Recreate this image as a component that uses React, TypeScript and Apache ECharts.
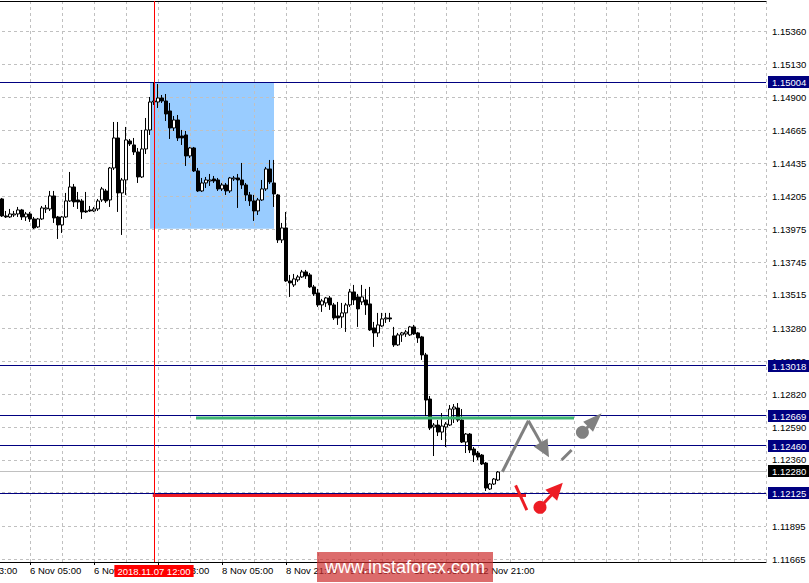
import { useEffect, useRef } from "react";
import * as echarts from "echarts";

// ---------- data (EURUSD H1) ----------
const FIRST_BAR = 9; // bar index of first candle (5 Nov 22:00)

const opens = [
  1.14187, 1.14068, 1.14061, 1.14075, 1.14082, 1.1411, 1.14061, 1.14082, 1.14047, 1.13991,
  1.14047, 1.14117, 1.14117, 1.14208, 1.14061, 1.14005, 1.14061, 1.14173, 1.14271, 1.1418,
  1.14173, 1.14103, 1.1411, 1.14103, 1.14117, 1.1418, 1.14243, 1.1418, 1.14404, 1.14614,
  1.14229, 1.1432, 1.14593, 1.14565, 1.14516, 1.14341, 1.14537, 1.1467, 1.14866, 1.14866,
  1.14894, 1.14873, 1.14803, 1.14684, 1.1474, 1.14628, 1.14635, 1.14488, 1.14544, 1.14383,
  1.14243, 1.14299, 1.14313, 1.14327, 1.1432, 1.14257, 1.14285, 1.14243, 1.14327, 1.14334,
  1.1432, 1.14285, 1.14215, 1.14173, 1.14103, 1.1418, 1.14257, 1.14397, 1.14299, 1.14215,
  1.139, 1.13984, 1.13613, 1.13585, 1.1362, 1.13641, 1.13676, 1.13655, 1.13571, 1.13529,
  1.13445, 1.13459, 1.13494, 1.13445, 1.13368, 1.13361, 1.13389, 1.13445, 1.13536, 1.13501,
  1.13466, 1.1348, 1.13452, 1.13284, 1.13249, 1.13298, 1.13347, 1.13354, 1.13228, 1.13165,
  1.13235, 1.13242, 1.13235, 1.13291, 1.13249, 1.13221, 1.13095, 1.12786, 1.1259, 1.12604,
  1.12555, 1.1259, 1.12604, 1.12716, 1.12723, 1.12639, 1.12485, 1.12541, 1.12436, 1.12408,
  1.12394, 1.12338, 1.12156, 1.12191, 1.12219,
];
const closes = [
  1.14068, 1.14061, 1.14082, 1.14082, 1.1411, 1.14061, 1.14082, 1.14047, 1.13984, 1.14047,
  1.14124, 1.14124, 1.14208, 1.14054, 1.14005, 1.14061, 1.14173, 1.14271, 1.14166, 1.14166,
  1.14096, 1.14096, 1.14103, 1.14117, 1.14173, 1.14257, 1.14173, 1.14404, 1.14614, 1.14229,
  1.1432, 1.146, 1.14572, 1.14516, 1.14341, 1.14537, 1.1467, 1.14866, 1.14873, 1.14894,
  1.14873, 1.14782, 1.14684, 1.1474, 1.14614, 1.14614, 1.14488, 1.14544, 1.14383, 1.14243,
  1.14299, 1.1432, 1.1432, 1.14313, 1.14257, 1.14285, 1.14243, 1.14334, 1.14334, 1.1432,
  1.14285, 1.14215, 1.14173, 1.14103, 1.1418, 1.14257, 1.14397, 1.14306, 1.14222, 1.139,
  1.13984, 1.13613, 1.13599, 1.13627, 1.13641, 1.13676, 1.13648, 1.13571, 1.13522, 1.13445,
  1.13473, 1.13494, 1.13445, 1.13354, 1.13354, 1.13389, 1.13445, 1.13536, 1.1348, 1.13417,
  1.13501, 1.13445, 1.1327, 1.13249, 1.13305, 1.13347, 1.13354, 1.13347, 1.13165, 1.13235,
  1.13249, 1.13256, 1.13291, 1.13242, 1.13214, 1.13095, 1.12779, 1.12583, 1.12604, 1.12555,
  1.12597, 1.12611, 1.12716, 1.1273, 1.12639, 1.12485, 1.12541, 1.12429, 1.12394, 1.1238,
  1.12331, 1.12163, 1.12191, 1.12226, 1.12275,
];
const lows = [
  1.14061, 1.14054, 1.14054, 1.14061, 1.14061, 1.1404, 1.14033, 1.14026, 1.13977, 1.13984,
  1.1404, 1.14089, 1.14103, 1.14019, 1.13907, 1.13949, 1.14054, 1.14166, 1.14131, 1.14117,
  1.14047, 1.14089, 1.14096, 1.14096, 1.14103, 1.14166, 1.14159, 1.14131, 1.1439, 1.14096,
  1.13935, 1.14215, 1.14558, 1.14495, 1.14299, 1.14334, 1.14502, 1.14635, 1.14845, 1.14824,
  1.14859, 1.14733, 1.14607, 1.14663, 1.14593, 1.14565, 1.14418, 1.14474, 1.14376, 1.14236,
  1.14236, 1.14264, 1.14278, 1.14299, 1.14243, 1.14243, 1.14215, 1.14229, 1.14313, 1.14124,
  1.14257, 1.14173, 1.14138, 1.14033, 1.14075, 1.14173, 1.14243, 1.14292, 1.14131, 1.13879,
  1.13879, 1.13606, 1.13501, 1.13571, 1.13606, 1.13634, 1.13627, 1.13564, 1.13508, 1.13431,
  1.13396, 1.13431, 1.1341, 1.1334, 1.13305, 1.13284, 1.13256, 1.13431, 1.13445, 1.13291,
  1.13445, 1.13375, 1.13263, 1.13151, 1.13221, 1.13291, 1.13319, 1.13326, 1.13151, 1.13158,
  1.13186, 1.13221, 1.13228, 1.13235, 1.13179, 1.1306, 1.12667, 1.12569, 1.12387, 1.12527,
  1.12499, 1.1245, 1.12597, 1.12618, 1.12625, 1.12478, 1.12408, 1.12408, 1.12345, 1.12359,
  1.12324, 1.12142, 1.12149, 1.12184, 1.12212,
];
const highs = [
  1.14194, 1.14103, 1.14117, 1.14103, 1.14131, 1.14117, 1.14096, 1.14096, 1.14061, 1.14054,
  1.14138, 1.14145, 1.14243, 1.14243, 1.14068, 1.14068, 1.14229, 1.14376, 1.14292, 1.14236,
  1.14187, 1.14236, 1.14138, 1.14131, 1.14187, 1.14271, 1.14257, 1.14411, 1.14726, 1.14726,
  1.14334, 1.14691, 1.14607, 1.14614, 1.14544, 1.1467, 1.14754, 1.14901, 1.15004, 1.14992,
  1.14915, 1.14922, 1.14859, 1.14768, 1.14775, 1.1467, 1.14663, 1.14551, 1.14551, 1.14404,
  1.14334, 1.14341, 1.14362, 1.14348, 1.14334, 1.14299, 1.14299, 1.14341, 1.14348, 1.14362,
  1.14439, 1.14299, 1.14236, 1.14215, 1.14194, 1.1432, 1.14411, 1.1446, 1.1446, 1.14222,
  1.14019, 1.14096, 1.13655, 1.13662, 1.13655, 1.1369, 1.1369, 1.13669, 1.13585, 1.13557,
  1.13487, 1.13501, 1.13508, 1.13459, 1.13466, 1.13459, 1.13459, 1.13557, 1.13585, 1.13522,
  1.13585, 1.13557, 1.13571, 1.13326, 1.13389, 1.13389, 1.13389, 1.13389, 1.13291, 1.13249,
  1.13256, 1.1327, 1.13298, 1.13305, 1.13256, 1.13228, 1.13109, 1.12807, 1.12618, 1.12639,
  1.12688, 1.12625, 1.12744, 1.12751, 1.12758, 1.12716, 1.12548, 1.12548, 1.1245, 1.12422,
  1.12401, 1.12345, 1.12198, 1.12233, 1.12282,
];

// price scale ticks (right axis)
const priceTicks = [
  1.1536, 1.1513, 1.149, 1.14665, 1.14435, 1.14205, 1.13975, 1.13745, 1.13515,
  1.1328, 1.1305, 1.1282, 1.1259, 1.1236, 1.1213, 1.11895, 1.11665,
];
const Y_MIN = 1.11645;
const Y_MAX = 1.15573;
const X_MAX = 200; // bar slots across the window
const LABEL_EVERY = 16;

// horizontal levels (navy), current bid (grey line, black tag)
const levelPrices = [1.15004, 1.13018, 1.12669, 1.1246, 1.12125];
const bidPrice = 1.1228;

// blue rectangle [fromBar, toBar, topPrice, bottomPrice]
const zone = [46, 77, 1.15004, 1.13978];
const crossBar = 47; // red vertical line

// drawn objects in (bar, price)
const resistanceLine = [[57.5, 1.12654], [152, 1.12654]];
const supportLine = [[46.7, 1.1211], [140, 1.1211]];
const greyPath = [[134.1, 1.12277], [140.6, 1.12634], [145.75, 1.12378]];
const greyDash = [[148.9, 1.12359], [151.4, 1.12429]];
const greyBounce = [[154.1, 1.12553], [158.9, 1.12686]];
const redCross = [[137.4, 1.12182], [140.2, 1.12009]];
const redBreak = [[143.5, 1.12028], [149.2, 1.122]];

// ---------- time axis ----------
const MONTHS = ["Jan", "Feb", "Mar", "Apr", "May", "Jun", "Jul", "Aug", "Sep", "Oct", "Nov", "Dec"];
const barTimes: Date[] = [];
{
  let t = Date.UTC(2018, 10, 5, 13);
  while (barTimes.length <= X_MAX) {
    const d = new Date(t);
    const wd = d.getUTCDay();
    if (wd !== 0 && wd !== 6) barTimes.push(d);
    t += 3600000;
  }
}
const pad = (n: number) => (n < 10 ? "0" + n : "" + n);
const shortTime = (d: Date) =>
  `${d.getUTCDate()} ${MONTHS[d.getUTCMonth()]} ${pad(d.getUTCHours())}:00`;
const longTime = (d: Date) =>
  `${d.getUTCFullYear()}.${pad(d.getUTCMonth() + 1)}.${pad(d.getUTCDate())} ${pad(d.getUTCHours())}:00`;

const LAST_BAR = FIRST_BAR + opens.length - 1;
const labelBars: number[] = [];
for (let i = 0; i <= LAST_BAR; i += LABEL_EVERY) labelBars.push(i);

const candles = opens.map((o, k) => [FIRST_BAR + k, o, closes[k], lows[k], highs[k]]);

const FONT = "'Liberation Sans', Arial, sans-serif";
const FS = 9.5;
const gridLine = { color: "#c0c0c0", width: 1, type: [3, 3] };

const crisp = (v: number) => Math.round(v - 0.5) + 0.5;

// level rows: [price, kind] kind 0 = navy level, 1 = bid
const levelRows = [...levelPrices.map((v) => [v, 0]), [bidPrice, 1]];

function renderLevel(_params: any, api: any) {
  const v = api.value(0);
  const kind = api.value(1);
  const a = api.coord([0, v]);
  const b = api.coord([X_MAX, v]);
  const y = crisp(a[1]);
  return {
    type: "group",
    children: [
      {
        type: "line",
        shape: { x1: a[0], y1: y, x2: b[0], y2: y },
        style: { stroke: kind === 1 ? "#c0c0c0" : "#000080", lineWidth: 1 },
        z2: kind === 1 ? 0 : 1,
      },
      {
        type: "text",
        x: b[0] + 2,
        y: Math.round(a[1]),
        z2: 5,
        style: {
          text: v.toFixed(5),
          fill: "#ffffff",
          backgroundColor: kind === 1 ? "#000000" : "#000080",
          padding: [1, 4, 1, 4],
          font: `${FS}px ${FONT}`,
          align: "left",
          verticalAlign: "middle",
          lineHeight: 10,
        },
      },
    ],
  };
}

function renderCross(_params: any, api: any) {
  const x = api.value(0);
  const top = api.coord([x, Y_MAX]);
  const bot = api.coord([x, Y_MIN]);
  const px = crisp(top[0]);
  return {
    type: "group",
    children: [
      {
        type: "line",
        shape: { x1: px, y1: top[1], x2: px, y2: bot[1] },
        style: { stroke: "#ff0000", lineWidth: 1 },
      },
      {
        type: "text",
        x: Math.round(top[0]),
        y: bot[1] + 3,
        style: {
          text: longTime(barTimes[x]),
          fill: "#ffffff",
          backgroundColor: "#ff0000",
          padding: [1, 3, 1, 3],
          font: `${FS}px ${FONT}`,
          align: "center",
          verticalAlign: "top",
          lineHeight: 10,
        },
      },
    ],
  };
}

function renderAnnotations(_params: any, api: any) {
  const P = (p: number[]) => api.coord(p);
  const kids: any[] = [];
  const thickLine = (pts: number[][], color: string, w: number) => {
    const a = P(pts[0]);
    const b = P(pts[1]);
    kids.push({
      type: "line",
      shape: { x1: a[0], y1: a[1], x2: b[0], y2: b[1] },
      style: { stroke: color, lineWidth: w, lineCap: "butt" },
    });
  };
  const arrow = (from: number[], tip: number[], color: string, len: number, half: number, w: number) => {
    const A = P(from);
    const T = P(tip);
    const dx = T[0] - A[0];
    const dy = T[1] - A[1];
    const L = Math.hypot(dx, dy);
    const ux = dx / L;
    const uy = dy / L;
    const bx = T[0] - ux * len;
    const by = T[1] - uy * len;
    kids.push({
      type: "line",
      shape: { x1: A[0], y1: A[1], x2: bx + ux, y2: by + uy },
      style: { stroke: color, lineWidth: w },
    });
    kids.push({
      type: "polygon",
      shape: { points: [[T[0], T[1]], [bx - uy * half, by + ux * half], [bx + uy * half, by - ux * half]] },
      style: { fill: color },
    });
  };
  const dot = (p: number[], color: string, r: number) => {
    const c = P(p);
    kids.push({ type: "circle", shape: { cx: c[0], cy: c[1], r }, style: { fill: color } });
  };

  thickLine(resistanceLine, "#3cb371", 3);
  thickLine(supportLine, "#ed1c24", 3);

  const grey = "#808080";
  const red = "#ed1c24";
  thickLine([greyPath[0], greyPath[1]], grey, 3);
  arrow(greyPath[1], greyPath[2], grey, 17, 8, 3);
  thickLine(greyDash, grey, 3);
  dot(greyBounce[0], grey, 6.5);
  arrow(greyBounce[0], greyBounce[1], grey, 19, 7, 3);

  thickLine(redCross, red, 3);
  dot(redBreak[0], red, 6.5);
  arrow(redBreak[0], redBreak[1], red, 17, 8, 3);

  return { type: "group", children: kids };
}

const option: any = {
  animation: false,
  backgroundColor: "#ffffff",
  textStyle: { fontFamily: FONT },
  grid: {
    left: -34,
    right: 43,
    top: 1,
    bottom: 21,
    containLabel: false,
    outerBoundsMode: "none",
  },
  xAxis: [
    {
      type: "value",
      min: 0,
      max: X_MAX,
      interval: 8,
      position: "bottom",
      z: 2,
      axisLine: { show: true, lineStyle: { color: "#000", width: 1 } },
      axisTick: { show: false },
      axisLabel: {
        show: true,
        color: "#000",
        fontSize: FS,
        fontFamily: FONT,
        align: "left",
        margin: 3,
        formatter: (v: number) => {
          const i = Math.round(v);
          return i % LABEL_EVERY === 0 && i <= LAST_BAR ? shortTime(barTimes[i]) : "";
        },
      },
      splitLine: { show: true, lineStyle: gridLine },
    },
    {
      type: "value",
      min: 0,
      max: X_MAX,
      position: "bottom",
      z: 2,
      axisLine: { show: false },
      axisLabel: { show: false },
      splitLine: { show: false },
      axisTick: { show: true, length: 3, customValues: labelBars, lineStyle: { color: "#000" } },
    },
    {
      type: "value",
      min: 0,
      max: X_MAX,
      position: "top",
      z: 2,
      axisLine: { show: true, lineStyle: { color: "#000", width: 1 } },
      axisLabel: { show: false },
      axisTick: { show: false },
      splitLine: { show: false },
    },
  ],
  yAxis: {
    type: "value",
    position: "right",
    min: Y_MIN,
    max: Y_MAX,
    z: 2,
    axisLine: { show: true, lineStyle: { color: "#000", width: 1 } },
    axisTick: { show: true, length: 3, customValues: priceTicks, lineStyle: { color: "#000" } },
    axisLabel: {
      customValues: priceTicks,
      color: "#000",
      fontSize: FS,
      fontFamily: FONT,
      margin: 6,
      formatter: (v: number) => v.toFixed(5),
    },
    splitLine: { show: true, lineStyle: gridLine },
  },
  series: [
    {
      type: "custom",
      name: "zone",
      z: 1,
      silent: true,
      data: [zone],
      renderItem: (_p: any, api: any) => {
        const a = api.coord([api.value(0), api.value(2)]);
        const b = api.coord([api.value(1), api.value(3)]);
        return {
          type: "rect",
          shape: { x: a[0], y: a[1], width: b[0] - a[0], height: b[1] - a[1] },
          style: { fill: "#99ccff" },
        };
      },
    },
    {
      type: "custom",
      name: "levels",
      z: 3,
      silent: true,
      clip: false,
      data: levelRows,
      encode: { y: 0 },
      renderItem: renderLevel,
    },
    {
      type: "candlestick",
      name: "EURUSD",
      z: 4,
      layout: "horizontal",
      barWidth: 3,
      data: candles,
      itemStyle: {
        color: "#ffffff",
        color0: "#000000",
        borderColor: "#000000",
        borderColor0: "#000000",
        borderWidth: 1,
      },
    },
    {
      type: "custom",
      name: "crosshair",
      z: 5,
      silent: true,
      clip: false,
      data: [[crossBar, Y_MIN]],
      renderItem: renderCross,
    },
    {
      type: "custom",
      name: "drawings",
      z: 6,
      silent: true,
      data: [[0, Y_MIN]],
      renderItem: renderAnnotations,
    },
  ],
  graphic: [
    {
      type: "rect",
      x: 317,
      y: 552,
      z: 100,
      shape: { width: 176, height: 30 },
      style: { fill: "rgba(205, 45, 45, 0.7)" },
    },
    {
      type: "text",
      x: 405,
      y: 567,
      z: 101,
      style: {
        text: "www.instaforex.com",
        fill: "#ffffff",
        font: `18px ${FONT}`,
        align: "center",
        verticalAlign: "middle",
      },
    },
  ],
};

export default function App() {
  const ref = useRef<HTMLDivElement>(null);
  useEffect(() => {
    document.body.style.margin = "0";
    const chart = echarts.init(ref.current!, null, { renderer: "svg" });
    chart.setOption(option);
    return () => chart.dispose();
  }, []);
  return (
    <div
      ref={ref}
      style={{ position: "absolute", left: 0, top: 0, width: 809, height: 583, background: "#fff" }}
    />
  );
}
